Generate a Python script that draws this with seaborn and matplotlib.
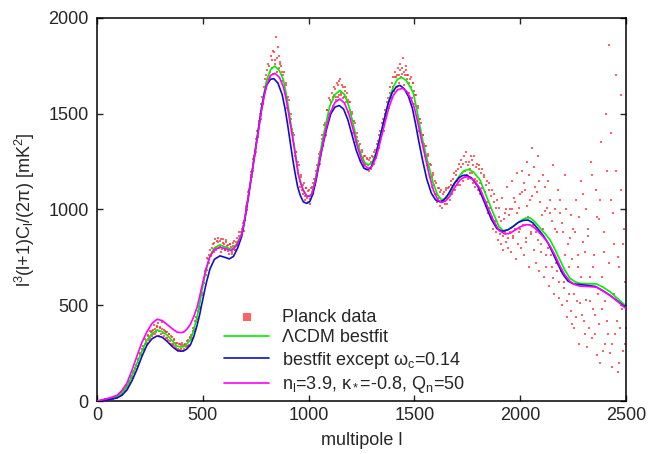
import numpy as np
import pandas as pd
import matplotlib
matplotlib.use("Agg")
import matplotlib.pyplot as plt
import seaborn as sns

# LCDM bestfit (green)
lcdm_l = [0, 20, 47, 70, 95, 108, 120, 131, 142, 153, 165, 177, 189, 212, 236, 260, 284, 308, 331, 355, 378, 395, 410, 425,
          441, 457, 473, 485, 496, 515, 534, 555, 581, 610, 636, 660, 684, 696, 707, 719, 731, 743, 755, 767,
          778, 790, 802, 820, 841, 862, 881, 893, 904, 916, 928, 940, 951, 963, 975, 991, 1005, 1015, 1030, 1046,
          1062, 1080, 1100, 1125, 1148, 1170, 1190, 1210, 1230, 1250, 1266, 1282, 1300, 1320, 1340, 1360, 1380, 1400, 1420, 1440,
          1460, 1480, 1495, 1510, 1525, 1542, 1565, 1589, 1610, 1629, 1648, 1668, 1690, 1716, 1735, 1755, 1780, 1810, 1840, 1873,
          1900, 1920, 1945, 1970, 2000, 2025, 2046, 2070, 2100, 2120, 2141, 2165, 2188, 2210, 2235, 2260, 2283, 2320, 2361, 2390,
          2424, 2460, 2495, 2500]
lcdm_v = [0, 2, 9, 14, 22, 32, 45, 58, 75, 100, 130, 162, 197, 260, 318, 352, 371, 362, 345, 315, 287, 282, 284, 298,
          318, 370, 440, 505, 580, 680, 760, 800, 815, 803, 792, 820, 876, 940, 1015, 1100, 1189, 1275, 1363, 1450,
          1537, 1610, 1676, 1730, 1749, 1725, 1676, 1610, 1537, 1450, 1363, 1275, 1189, 1140, 1102, 1072, 1070, 1085, 1150, 1241,
          1340, 1440, 1540, 1600, 1622, 1600, 1540, 1450, 1350, 1280, 1245, 1232, 1245, 1300, 1390, 1480, 1570, 1641, 1680, 1690,
          1675, 1640, 1607, 1530, 1440, 1346, 1240, 1137, 1075, 1050, 1060, 1085, 1140, 1180, 1203, 1210, 1195, 1154, 1070, 980,
          910, 889, 895, 915, 940, 955, 957, 935, 895, 870, 841, 790, 736, 685, 641, 622, 614, 613, 611, 595,
          571, 535, 501, 495]

# bestfit except omega_c=0.14 (blue)
wc_l = [0, 47, 70, 95, 118, 142, 165, 189, 212, 236, 260, 284, 308, 331, 355, 378, 395, 410, 425, 441, 457, 473, 485, 496,
        515, 534, 555, 581, 605, 625, 645, 665, 684, 696, 707, 719, 731, 743, 755, 767, 778, 790, 802, 820,
        836, 855, 875, 888, 900, 912, 924, 936, 948, 960, 975, 991, 1005, 1020, 1035, 1050, 1066, 1085, 1105, 1125,
        1145, 1165, 1185, 1205, 1225, 1245, 1262, 1278, 1295, 1315, 1335, 1355, 1375, 1395, 1415, 1432, 1452, 1472, 1490, 1505,
        1520, 1538, 1558, 1580, 1600, 1620, 1640, 1660, 1685, 1710, 1727, 1744, 1770, 1800, 1830, 1863, 1890, 1915, 1940, 1965,
        1990, 2015, 2038, 2060, 2090, 2110, 2130, 2155, 2178, 2200, 2225, 2250, 2283, 2320, 2355, 2385, 2420, 2460, 2495, 2500]
wc_v = [0, 6, 10, 16, 30, 58, 105, 165, 232, 292, 325, 340, 333, 312, 285, 265, 260, 262, 272, 292, 335, 395, 450, 510,
        610, 690, 740, 758, 750, 742, 755, 800, 860, 930, 1005, 1090, 1180, 1270, 1360, 1450, 1530, 1600, 1650, 1680,
        1683, 1660, 1600, 1530, 1450, 1360, 1270, 1190, 1120, 1075, 1040, 1032, 1040, 1080, 1150, 1240, 1330, 1420, 1500, 1535,
        1543, 1525, 1470, 1390, 1310, 1250, 1215, 1207, 1220, 1275, 1365, 1460, 1550, 1610, 1642, 1648, 1630, 1590, 1530, 1450,
        1360, 1260, 1160, 1085, 1050, 1040, 1050, 1080, 1130, 1165, 1177, 1180, 1165, 1120, 1040, 950, 900, 886, 893, 910,
        932, 943, 945, 930, 890, 862, 828, 770, 715, 665, 627, 612, 608, 604, 598, 580, 555, 522, 492, 488]

# n_l=3.9, kappa=-0.8, Q_n=50 (magenta)
nl_l = [0, 47, 70, 95, 118, 142, 165, 189, 212, 236, 260, 284, 308, 331, 355, 378, 394, 410, 425, 441, 457, 473, 485, 496,
        515, 534, 555, 581, 610, 636, 660, 684, 696, 707, 719, 731, 743, 755, 767, 778, 790, 802, 820, 841,
        862, 881, 893, 904, 916, 928, 940, 951, 963, 975, 991, 1005, 1015, 1030, 1046, 1062, 1080, 1100, 1125, 1148,
        1170, 1190, 1210, 1230, 1250, 1266, 1282, 1300, 1320, 1340, 1360, 1380, 1400, 1420, 1445, 1465, 1485, 1500, 1515, 1530,
        1550, 1570, 1590, 1610, 1629, 1648, 1668, 1690, 1716, 1735, 1750, 1780, 1810, 1840, 1873, 1900, 1928, 1950, 1975, 2000,
        2025, 2046, 2070, 2100, 2120, 2141, 2165, 2188, 2210, 2235, 2260, 2283, 2320, 2361, 2390, 2424, 2460, 2495, 2500]
nl_v = [0, 12, 20, 30, 55, 95, 160, 235, 305, 362, 405, 427, 420, 400, 378, 360, 357, 360, 375, 400, 440, 490, 545, 600,
        690, 755, 790, 803, 795, 785, 812, 870, 935, 1010, 1095, 1182, 1268, 1355, 1440, 1520, 1590, 1650, 1700, 1711,
        1690, 1640, 1580, 1510, 1430, 1350, 1265, 1185, 1135, 1098, 1070, 1068, 1080, 1140, 1225, 1315, 1410, 1500, 1560, 1577,
        1555, 1500, 1420, 1330, 1262, 1228, 1215, 1225, 1275, 1360, 1450, 1535, 1595, 1625, 1633, 1615, 1575, 1530, 1460, 1380,
        1280, 1180, 1100, 1052, 1036, 1045, 1070, 1115, 1155, 1168, 1171, 1155, 1110, 1030, 945, 890, 872, 875, 892, 910,
        920, 920, 902, 868, 842, 810, 760, 705, 660, 625, 607, 600, 598, 594, 575, 552, 520, 487, 483]

# Planck data, read at l=30,36,42,... and l=33,39,45,...
planck_l_a = list(range(30, 2500, 6))
planck_v_a = [
    6, 3, 9, 12, 8, 15, 11, 18, 14, 22,
    24, 18, 33, 29, 46, 40, 62, 55, 78, 74,
    102, 95, 130, 118, 148, 170, 165, 212, 200, 250,
    240, 285, 270, 322, 295, 340, 318, 365, 338, 372,
    395, 352, 388, 405, 342, 380, 410, 355, 372, 330,
    362, 318, 350, 300, 335, 290, 322, 275, 305, 262,
    298, 270, 305, 262, 295, 280, 315, 288, 330, 345,
    330, 380, 375, 440, 430, 495, 490, 575, 565, 640,
    680, 660, 745, 720, 790, 760, 820, 780, 845, 790,
    850, 800, 835, 780, 845, 820, 790, 840, 815, 770,
    820, 770, 810, 835, 790, 850, 815, 880, 845, 900,
    930, 890, 1010, 995, 1090, 1080, 1180, 1170, 1265, 1260,
    1300, 1410, 1380, 1500, 1470, 1590, 1560, 1680, 1640, 1730,
    1760, 1690, 1800, 1740, 1830, 1780, 1900, 1720, 1800, 1760,
    1750, 1670, 1720, 1610, 1650, 1530, 1570, 1450, 1470, 1360,
    1390, 1280, 1300, 1190, 1230, 1120, 1170, 1080, 1140, 1050,
    1110, 1040, 1100, 1030, 1120, 1080, 1160, 1130, 1230, 1210,
    1290, 1240, 1370, 1330, 1440, 1390, 1520, 1450, 1580, 1510,
    1610, 1540, 1640, 1570, 1660, 1590, 1670, 1600, 1650, 1580,
    1640, 1560, 1610, 1510, 1560, 1470, 1500, 1400, 1450, 1350,
    1380, 1310, 1340, 1260, 1300, 1230, 1280, 1210, 1265, 1200,
    1270, 1210, 1275, 1240, 1310, 1270, 1360, 1320, 1410, 1380,
    1470, 1410, 1520, 1480, 1580, 1530, 1640, 1580, 1690, 1620,
    1720, 1640, 1740, 1660, 1760, 1710, 1790, 1650, 1730, 1700,
    1700, 1610, 1690, 1580, 1660, 1550, 1600, 1490, 1530, 1410,
    1450, 1350, 1390, 1280, 1330, 1230, 1290, 1170, 1230, 1120,
    1180, 1080, 1140, 1040, 1110, 1020, 1100, 1010, 1090, 1030,
    1110, 1030, 1120, 1050, 1150, 1080, 1190, 1100, 1200, 1130,
    1240, 1130, 1260, 1150, 1280, 1170, 1300, 1160, 1250, 1190,
    1260, 1140, 1280, 1120, 1240, 1100, 1230, 1080, 1210, 1060,
    1180, 1020, 1150, 980, 1140, 960, 1100, 900, 1080, 880,
    1050, 840, 1010, 820, 1060, 790, 980, 830, 1120, 800,
    1000, 780, 1150, 850, 1040, 740, 1190, 880, 1080, 800,
    1200, 760, 1100, 850, 1250, 700, 1050, 880, 1320, 790,
    1120, 720, 1280, 680, 1040, 820, 1180, 650, 990, 760,
    1150, 600, 980, 700, 1230, 560, 900, 680, 1100, 540,
    1050, 500, 880, 620, 1180, 440, 820, 560, 970, 400,
    900, 380, 1050, 520, 760, 300, 1150, 450, 830, 350,
    1000, 280, 860, 520, 1250, 330, 700, 450, 1100, 240,
    950, 200, 1350, 480, 780, 300, 1500, 420, 1860, 250,
    1050, 180, 820, 350, 1200, 150, 700, 380, 1600, 260,
    900, 300,
]
planck_l_b = list(range(33, 2500, 6))
planck_v_b = [
    3, 8, 6, 11, 13, 10, 16, 13, 19, 17,
    19, 29, 27, 40, 39, 56, 52, 70, 82, 80,
    98, 120, 125, 150, 158, 190, 185, 220, 245, 238,
    270, 265, 300, 315, 305, 345, 330, 360, 368, 348,
    375, 360, 392, 365, 385, 350, 378, 340, 368, 362,
    330, 352, 315, 338, 300, 318, 285, 305, 272, 298,
    268, 295, 290, 272, 300, 285, 318, 295, 335, 322,
    368, 365, 420, 415, 470, 480, 545, 555, 620, 615,
    690, 685, 740, 765, 755, 800, 785, 825, 800, 835,
    830, 805, 845, 795, 825, 790, 830, 810, 785, 820,
    805, 780, 825, 790, 830, 815, 860, 840, 885, 870,
    940, 945, 1020, 1030, 1100, 1120, 1195, 1200, 1280, 1290,
    1370, 1380, 1460, 1470, 1550, 1550, 1640, 1620, 1700, 1680,
    1750, 1720, 1780, 1710, 1820, 1760, 1790, 1850, 1740, 1770,
    1720, 1700, 1640, 1660, 1580, 1590, 1500, 1500, 1420, 1400,
    1340, 1300, 1230, 1250, 1150, 1180, 1100, 1130, 1070, 1110,
    1060, 1095, 1055, 1110, 1080, 1140, 1150, 1200, 1190, 1270,
    1300, 1300, 1390, 1380, 1450, 1440, 1520, 1500, 1570, 1560,
    1590, 1600, 1630, 1590, 1650, 1600, 1680, 1610, 1640, 1590,
    1620, 1590, 1570, 1560, 1520, 1510, 1460, 1460, 1400, 1400,
    1360, 1330, 1300, 1310, 1270, 1280, 1240, 1270, 1230, 1260,
    1250, 1280, 1240, 1300, 1280, 1340, 1330, 1390, 1380, 1450,
    1450, 1500, 1500, 1560, 1550, 1610, 1600, 1660, 1640, 1690,
    1690, 1700, 1700, 1730, 1690, 1740, 1720, 1700, 1750, 1680,
    1660, 1680, 1640, 1660, 1620, 1600, 1540, 1540, 1470, 1470,
    1400, 1390, 1340, 1330, 1280, 1280, 1220, 1240, 1170, 1190,
    1130, 1150, 1080, 1110, 1060, 1090, 1040, 1080, 1050, 1100,
    1060, 1110, 1080, 1130, 1100, 1160, 1130, 1180, 1150, 1210,
    1170, 1220, 1190, 1240, 1200, 1250, 1180, 1230, 1210, 1280,
    1190, 1230, 1160, 1220, 1150, 1210, 1140, 1190, 1110, 1170,
    1090, 1130, 1040, 1100, 1010, 1070, 960, 1040, 940, 1010,
    900, 960, 870, 940, 860, 950, 880, 1000, 850, 970,
    880, 1000, 860, 1060, 900, 980, 820, 1010, 900, 1090,
    920, 1140, 830, 1020, 960, 1180, 870, 1070, 920, 1220,
    880, 1090, 840, 1150, 780, 970, 900, 1120, 700, 1010,
    800, 1050, 760, 940, 640, 1000, 720, 880, 620, 980,
    680, 930, 590, 760, 1000, 520, 700, 850, 470, 740,
    560, 880, 440, 700, 960, 510, 650, 1080, 420, 780,
    530, 900, 380, 650, 1180, 480, 760, 350, 960, 560,
    400, 1050, 650, 260, 880, 520, 1200, 350, 720, 1400,
    300, 980, 560, 1700, 420, 750, 200, 1100, 480, 820,
    620, 380,
]

sns.set_style("ticks")
plt.rcParams["font.family"] = ["Liberation Sans", "DejaVu Sans"]
plt.rcParams["mathtext.fontset"] = "custom"
plt.rcParams["mathtext.rm"] = "Liberation Sans"
plt.rcParams["mathtext.it"] = "Liberation Sans:italic"
plt.rcParams["font.size"] = 13

fig, ax = plt.subplots(figsize=(6.58, 4.54), dpi=100)
fig.subplots_adjust(left=0.1474, right=0.9514, top=0.9604, bottom=0.1167)

data = pd.DataFrame({"l": planck_l_a + planck_l_b, "v": planck_v_a + planck_v_b})
sns.scatterplot(data=data, x="l", y="v", marker="s", s=2.2, color="#ff2020", alpha=0.7,
                linewidth=0, ax=ax, label="Planck data", zorder=1)
sns.lineplot(x=lcdm_l, y=lcdm_v, color="#00ee00", lw=1.2, ax=ax, estimator=None,
             label="ΛCDM bestfit", zorder=2)
sns.lineplot(x=wc_l, y=wc_v, color="#1010c8", lw=1.2, ax=ax, estimator=None,
             label=r"bestfit except ω$_\mathrm{c}$=0.14", zorder=3)
sns.lineplot(x=nl_l, y=nl_v, color="#ff00ff", lw=1.2, ax=ax, estimator=None,
             label=r"n$_\mathrm{l}$=3.9, κ$_*$=-0.8, Q$_\mathrm{n}$=50", zorder=4)

ax.set_xlim(0, 2500)
ax.set_ylim(0, 2000)
ax.set_xticks([0, 500, 1000, 1500, 2000, 2500])
ax.set_yticks([0, 500, 1000, 1500, 2000])
ax.tick_params(direction="in", top=True, right=True, length=4.5, width=1, labelsize=13)
ax.tick_params(axis="y", pad=6)
ax.tick_params(axis="x", pad=4)
for sp in ax.spines.values():
    sp.set_linewidth(1.1)
    sp.set_color("black")
ax.set_xlabel("multipole l", fontsize=13, labelpad=6)
ax.set_ylabel(r"l$^3$(l+1)C$_\mathrm{l}$/(2π) [mK$^2$]", fontsize=13, labelpad=8)

leg = ax.legend(loc="center", bbox_to_anchor=(0.468, 0.128), frameon=False, fontsize=13,
                handlelength=2.5, handletextpad=0.7, labelspacing=0.2, markerscale=3.8,
                borderpad=0.2)

fig.savefig("out.png", dpi=100)
